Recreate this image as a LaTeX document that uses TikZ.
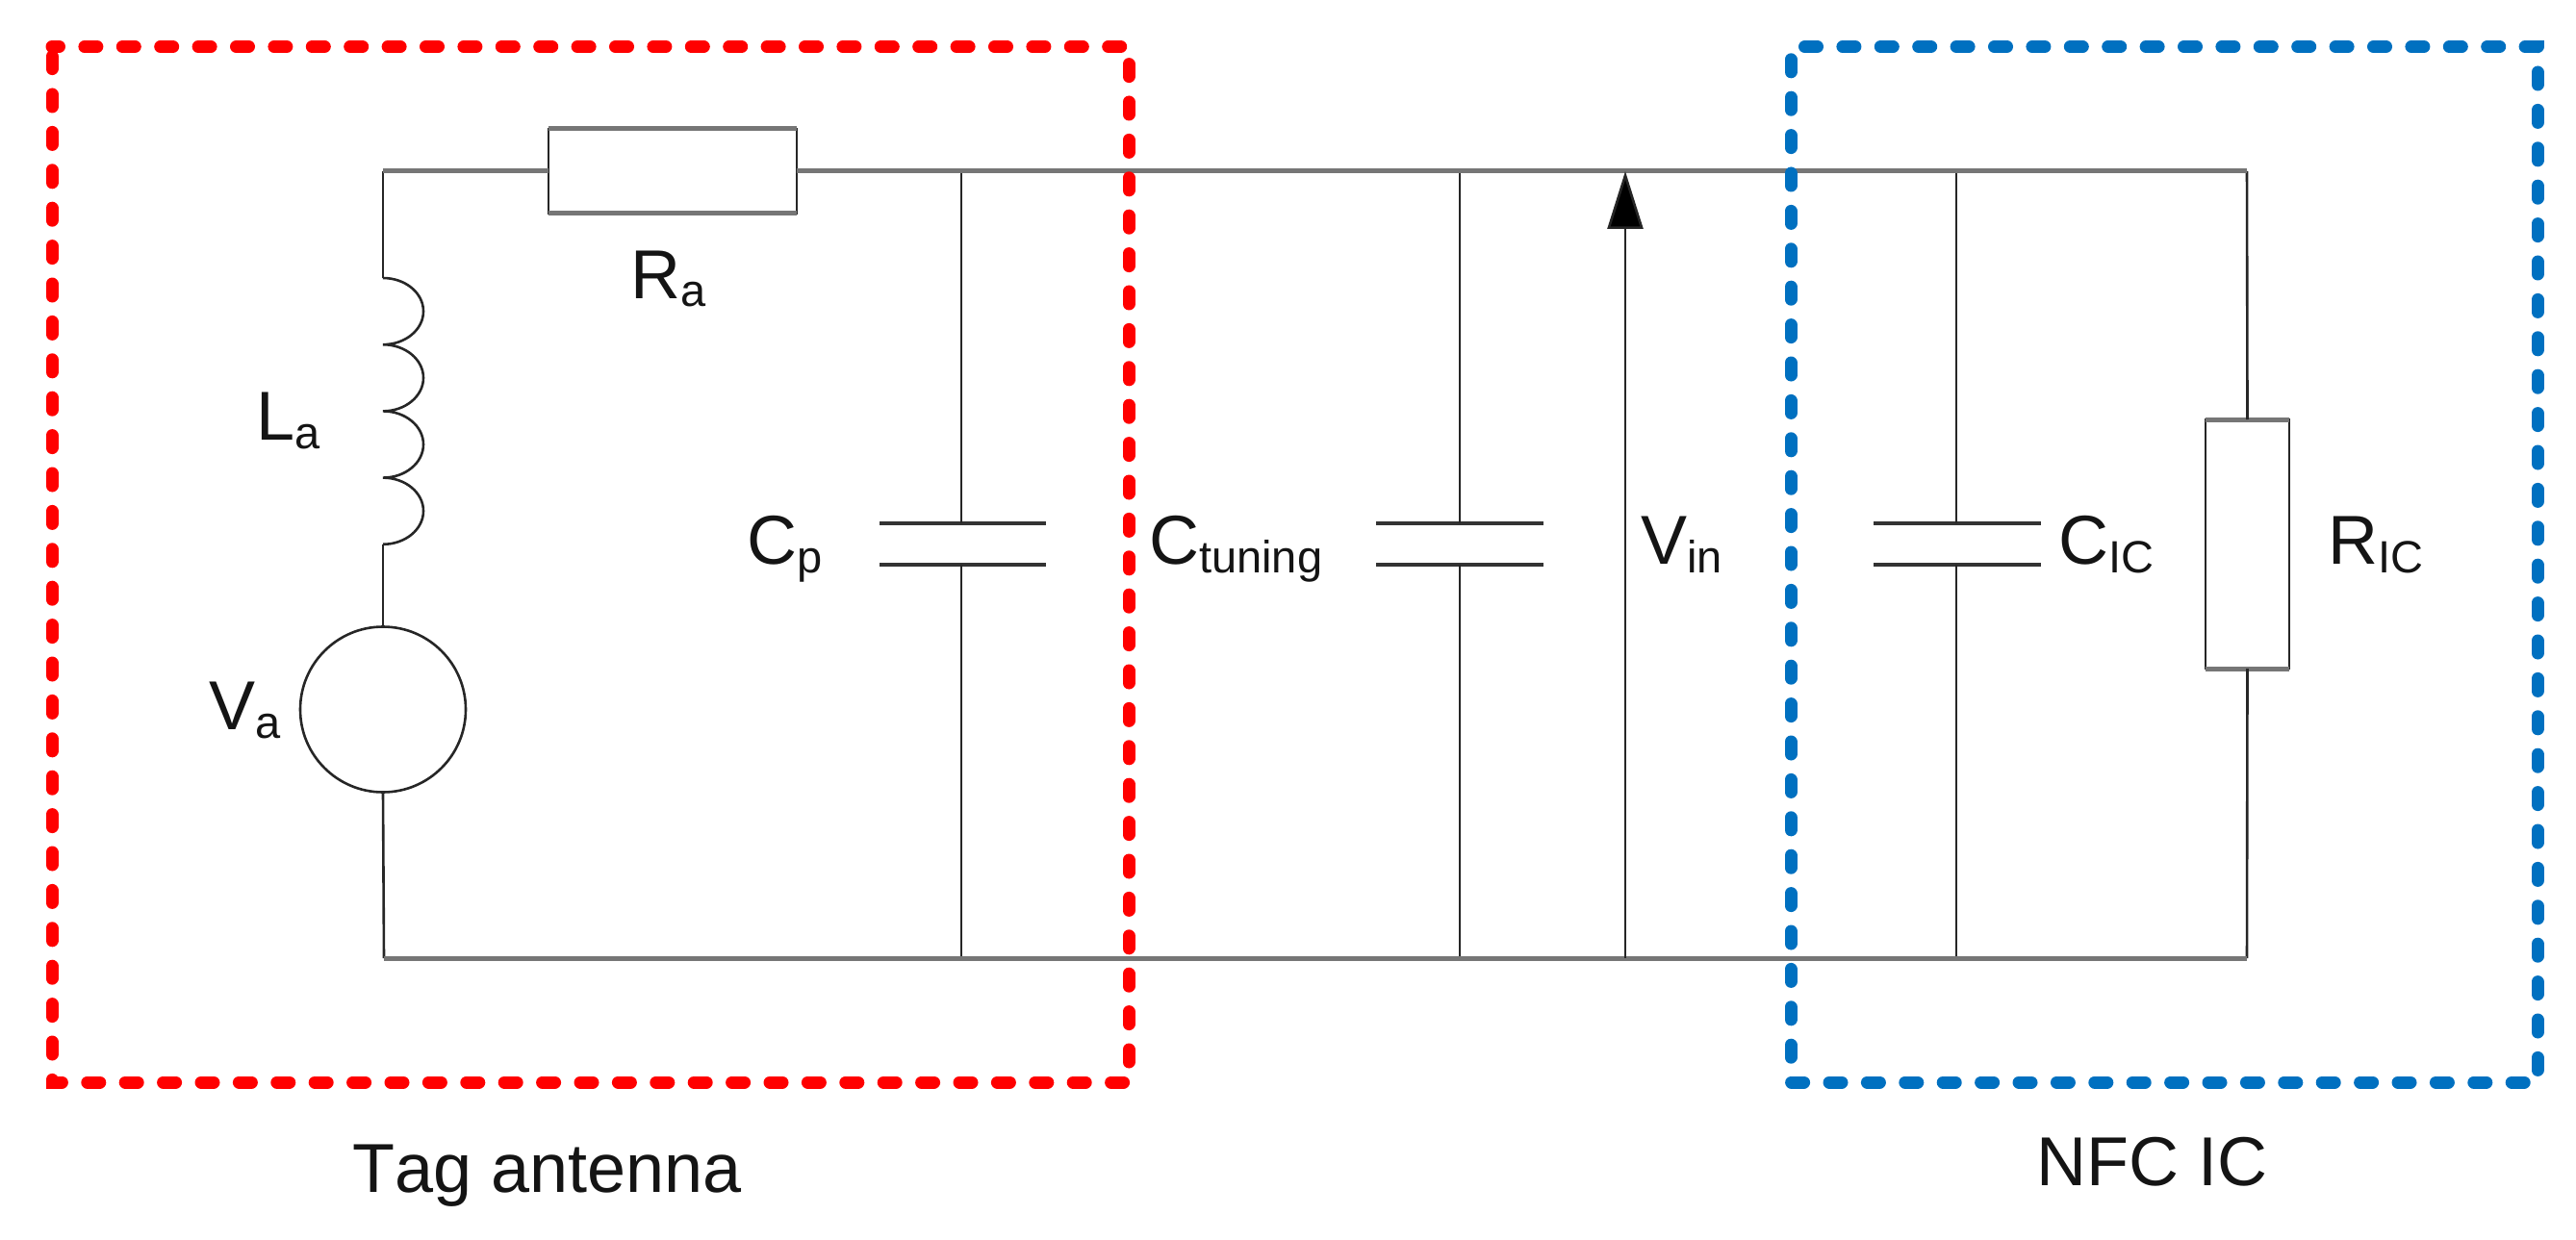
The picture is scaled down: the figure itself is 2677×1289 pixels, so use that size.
\documentclass[tikz,border=0pt]{standalone}
\usepackage{fontspec}
\setmainfont{Liberation Sans}[Kerning=Off]
\usetikzlibrary{arrows.meta}
\newcommand{\lowtxt}[1]{\raisebox{-9pt}{\fontsize{47}{50}\selectfont #1}}
\definecolor{wiregray}{HTML}{767676}
\definecolor{boxblue}{HTML}{0070C0}
\tikzset{
  lbl/.style={anchor=base west,inner sep=0pt,font=\fontsize{72}{80}\selectfont,text=black!92},
  vwire/.style={draw=black!85,line width=2.6pt},
  hwire/.style={draw=wiregray,line width=5pt,line cap=butt},
  partbox/.style={draw=black!85,line width=2.6pt,fill=white,inner sep=0pt,outer sep=0pt,rectangle},
  plate/.style={draw=black!80,line width=4pt},
  redbox/.style={draw=red,line width=13pt,line cap=round,dash pattern=on 13pt off 26.4pt,dash phase=5.5pt},
  bluebox/.style={draw=boxblue,line width=13pt,line cap=round,dash pattern=on 13pt off 26.4pt,dash phase=24.9pt}
}
\begin{document}
\begin{tikzpicture}[x=1pt,y=-1pt]
\useasboundingbox (0,0) rectangle (2677,1289);
% junctions
\coordinate (tl) at (398,178);
\coordinate (tc1) at (999,178);
\coordinate (tc2) at (1517,178);
\coordinate (tv) at (1689,178);
\coordinate (tc3) at (2033,178);
\coordinate (tr) at (2335,178);
\coordinate (bl) at (399,996);
\coordinate (bc1) at (999,996);
\coordinate (bc2) at (1517,996);
\coordinate (bv) at (1689,996);
\coordinate (bc3) at (2033,996);
\coordinate (br) at (2335,996);
\coordinate (ls) at (398,289);
\coordinate (le) at (398,566);
% parts
\node[partbox,minimum width=258pt,minimum height=88pt] (ra) at (699,178) {};
\node[partbox,minimum width=87pt,minimum height=259pt] (ric) at (2335.5,565.5) {};
\node[circle,draw=black!85,line width=2.6pt,inner sep=0pt,outer sep=0pt,minimum size=172pt] (va) at (398,737.5) {};
\draw[hwire] (ra.north west) -- (ra.north east);
\draw[hwire] (ra.south west) -- (ra.south east);
\draw[hwire] (ric.north west) -- (ric.north east);
\draw[hwire] (ric.south west) -- (ric.south east);
% capacitor plates
\coordinate (c1a) at (999,544); \coordinate (c1b) at (999,587);
\coordinate (c2a) at (1517,544); \coordinate (c2b) at (1517,587);
\coordinate (c3a) at (2033,544); \coordinate (c3b) at (2033,587);
\draw[plate] (914,544) -- (1087,544);
\draw[plate] (914,587) -- (1087,587);
\draw[plate] (1430,544) -- (1604,544);
\draw[plate] (1430,587) -- (1604,587);
\draw[plate] (1947,544) -- (2121,544);
\draw[plate] (1947,587) -- (2121,587);
% verticals
\draw[vwire] (tl) -- (ls);
\draw[vwire] (ls) arc[start angle=-90,end angle=90,x radius=42,y radius=34.6]
  arc[start angle=-90,end angle=90,x radius=42,y radius=34.6]
  arc[start angle=-90,end angle=90,x radius=42,y radius=34.6]
  arc[start angle=-90,end angle=90,x radius=42,y radius=34.6];
\draw[vwire] (le) -- (va.north);
\draw[vwire] (va.south) -- (bl);
\draw[vwire] (tc1) -- (c1a);
\draw[vwire] (c1b) -- (bc1);
\draw[vwire] (tc2) -- (c2a);
\draw[vwire] (c2b) -- (bc2);
\draw[vwire] (tc3) -- (c3a);
\draw[vwire] (c3b) -- (bc3);
\draw[vwire] (tr) -- (ric.north);
\draw[vwire] (ric.south) -- (br);
% rails
\draw[hwire] (tl) -- (ra.west);
\draw[hwire] (ra.east) -- (tr);
\draw[hwire] (bl) -- (br);
\draw[vwire,-{Triangle[length=60pt,width=37pt,fill=black]}] (bv) -- (tv);
% labels
\node[lbl] (lra) at (655,310) {R\lowtxt{a}};
\node[lbl] (lla) at (266,457) {L\lowtxt{a}};
\node[lbl] (lcp) at (776,586) {C\lowtxt{p}};
\node[lbl] (lct) at (1194,586) {C\lowtxt{tuning}};
\node[lbl] (lva) at (217,758) {V\lowtxt{a}};
\node[lbl] (lvin) at (1705,586) {V\lowtxt{in}};
\node[lbl] (lcic) at (2139,586) {C\lowtxt{IC}};
\node[lbl] (lric) at (2419,586) {R\lowtxt{IC}};
\node[lbl] (ltag) at (366,1239) {Tag antenna};
\node[lbl] (lnfc) at (2116,1232) {NFC IC};
% boxes
\draw[redbox] (54,48.5) -- (1173,48.5) -- (1173,1125) -- (54,1125) -- cycle;
\draw[bluebox] (1861,48.5) -- (2637,48.5) -- (2637,1125) -- (1861,1125) -- cycle;
\end{tikzpicture}
\end{document}
